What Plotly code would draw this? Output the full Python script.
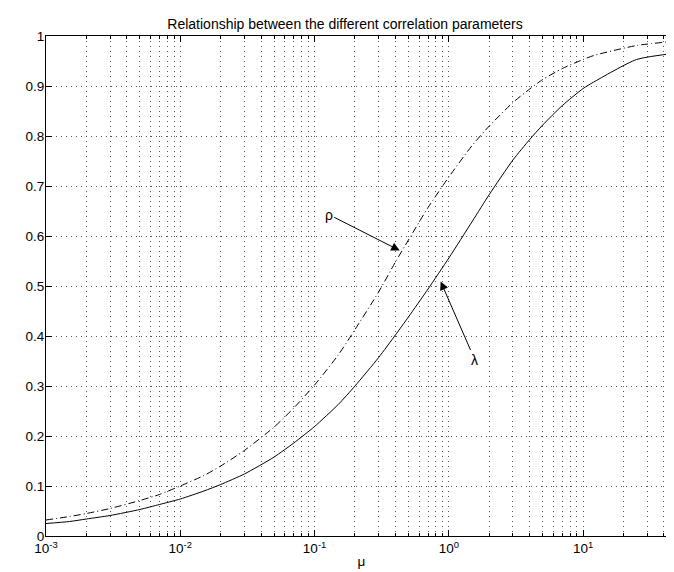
import plotly.graph_objects as go

# Data
mu = [0.001, 0.0015, 0.002, 0.003, 0.005, 0.007, 0.01, 0.015, 0.02, 0.03, 0.05, 0.07,
      0.1, 0.15, 0.2, 0.3, 0.4, 0.5, 0.7, 1, 1.5, 2, 3, 4, 5, 7, 10, 12, 25, 50]
rho = [0.032, 0.039, 0.045, 0.055, 0.071, 0.083, 0.100, 0.121, 0.140, 0.171, 0.218, 0.256,
       0.302, 0.362, 0.413, 0.488, 0.548, 0.592, 0.657, 0.718, 0.782, 0.820, 0.867, 0.894,
       0.913, 0.935, 0.953, 0.961, 0.981, 0.990]
lam = [0.025, 0.029, 0.034, 0.041, 0.053, 0.063, 0.074, 0.090, 0.103, 0.124, 0.158, 0.186,
       0.219, 0.263, 0.300, 0.357, 0.402, 0.438, 0.494, 0.556, 0.630, 0.683, 0.752, 0.793,
       0.822, 0.861, 0.895, 0.908, 0.953, 0.966]

x_tickvals = [1e-3, 1e-2, 1e-1, 1, 10]
x_ticktext = ["10<sup>-3</sup>", "10<sup>-2</sup>", "10<sup>-1</sup>", "10<sup>0</sup>", "10<sup>1</sup>"]
x_minorvals = [m * 10 ** e for e in range(-3, 2) for m in range(2, 10) if m * 10 ** e <= 50]
y_tickvals = [0, 0.1, 0.2, 0.3, 0.4, 0.5, 0.6, 0.7, 0.8, 0.9, 1]
title_text = "Relationship between the different correlation parameters"

FONT = "Liberation Sans, Arial, Helvetica, sans-serif"
GRID = "#555555"
GDASH = "1px,4px"

fig = go.Figure()
fig.add_trace(go.Scatter(x=mu, y=lam, mode="lines", name="λ",
                         line=dict(color="black", width=1, shape="spline", smoothing=0.6),
                         showlegend=False))
fig.add_trace(go.Scatter(x=mu, y=rho, mode="lines", name="ρ",
                         line=dict(color="black", width=1, dash="7px,3px,1px,3px",
                                   shape="spline", smoothing=0.6),
                         showlegend=False))

# arrows with labels
fig.add_annotation(x=-0.366, y=0.571, xref="x", yref="y", text="ρ",
                   showarrow=True, axref="pixel", ayref="pixel", ax=-71, ay=-36,
                   arrowhead=2, arrowsize=1.7, arrowwidth=1, arrowcolor="black",
                   font=dict(family=FONT, size=14, color="black"))
fig.add_annotation(x=-0.061, y=0.509, xref="x", yref="y", text="λ",
                   showarrow=True, axref="pixel", ayref="pixel", ax=34, ay=78,
                   arrowhead=2, arrowsize=1.7, arrowwidth=1, arrowcolor="black",
                   font=dict(family=FONT, size=14, color="black"))

fig.update_layout(
    width=674, height=572,
    margin=dict(l=38, r=5, t=28, b=44),
    paper_bgcolor="white", plot_bgcolor="white",
    font=dict(family=FONT, size=13.5, color="black"),
    title=dict(text=title_text, x=0.5, xanchor="center", y=1 - 16 / 572, yanchor="middle",
               font=dict(family=FONT, size=14, color="black")),
)
fig.update_xaxes(
    type="log", range=[-3, 1.69897],
    tickmode="array", tickvals=x_tickvals, ticktext=x_ticktext,
    ticks="inside", ticklen=6, tickcolor="black", tickwidth=1,
    showline=True, linecolor="black", linewidth=1, mirror="allticks",
    showgrid=True, gridcolor=GRID, griddash=GDASH, gridwidth=1,
    zeroline=False,
    minor=dict(tickmode="array", tickvals=x_minorvals, ticks="inside", ticklen=3,
               tickcolor="black", showgrid=True, gridcolor=GRID, griddash=GDASH, gridwidth=1),
    title=dict(text="μ", standoff=1, font=dict(family=FONT, size=13.5)),
    tickfont=dict(family=FONT, size=13.5),
)
fig.update_yaxes(
    range=[0, 1], tickmode="array", tickvals=y_tickvals,
    ticks="inside", ticklen=6, tickcolor="black", tickwidth=1,
    showline=True, linecolor="black", linewidth=1, mirror="allticks",
    showgrid=True, gridcolor=GRID, griddash=GDASH, gridwidth=1,
    zeroline=False, ticklabelstandoff=-2,
    tickfont=dict(family=FONT, size=13.5),
)

fig.write_html("out.html")
